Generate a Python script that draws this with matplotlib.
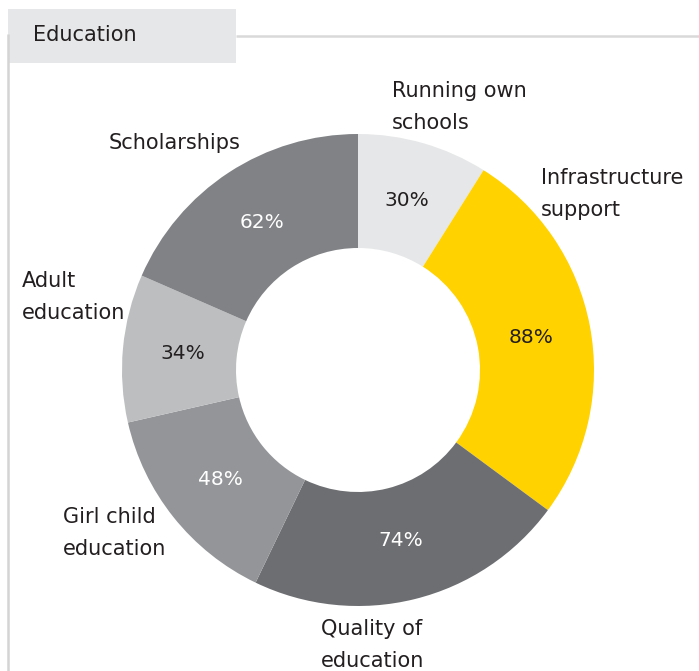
import matplotlib.pyplot as plt
from matplotlib.patches import Rectangle
import numpy as np

categories = ['Running own\nschools', 'Infrastructure\nsupport', 'Quality of\neducation',
              'Girl child\neducation', 'Adult\neducation', 'Scholarships']
values = [30, 88, 74, 48, 34, 62]
colors = ['#E6E7E8', '#FFD200', '#6D6E71', '#939598', '#BCBEC0', '#808285']
pct_colors = ['#231F20', '#231F20', 'white', 'white', '#231F20', 'white']

W, H = 699, 671
fig = plt.figure(figsize=(W / 100, H / 100), dpi=100)
ax = fig.add_axes([0, 0, 1, 1])

cx, cy, R = 358, H - 370, 236
wedges, _ = ax.pie(values, colors=colors, startangle=90, counterclock=False,
                   radius=R, center=(cx, cy),
                   wedgeprops=dict(width=114, edgecolor='none'))
ax.set_xlim(0, W)
ax.set_ylim(0, H)
ax.set_aspect('equal')
ax.axis('off')

# percentage labels in the middle of the ring
for w, v, c in zip(wedges, values, pct_colors):
    ang = np.deg2rad((w.theta1 + w.theta2) / 2)
    r = R - 60
    ax.text(cx + r * np.cos(ang), cy + r * np.sin(ang), f'{v}%', color=c,
            fontsize=14.5, ha='center', va='center')

# category labels (left edge, vertical centre of text block in pixels)
label_pos = [(392, 107), (541, 194), (321, 645), (63, 533), (22, 297), (109, 143)]
for lab, (px, py) in zip(categories, label_pos):
    ax.text(px, H - py, lab, fontsize=15, color='#231F20', ha='left', va='center',
            linespacing=1.75)

# header
ax.add_patch(Rectangle((8, H - 63), 228, 54, facecolor='#E6E7E8', edgecolor='none'))
ax.text(33, H - 35, 'Education', fontsize=15, color='#231F20', ha='left', va='center')
ax.plot([236, W], [H - 35.5, H - 35.5], color='#D9D9D9', lw=1.8, solid_capstyle='butt')
ax.plot([8, 8], [0, H - 34], color='#D4D4D4', lw=1.8, solid_capstyle='butt')

fig.savefig('out.png', dpi=100)
